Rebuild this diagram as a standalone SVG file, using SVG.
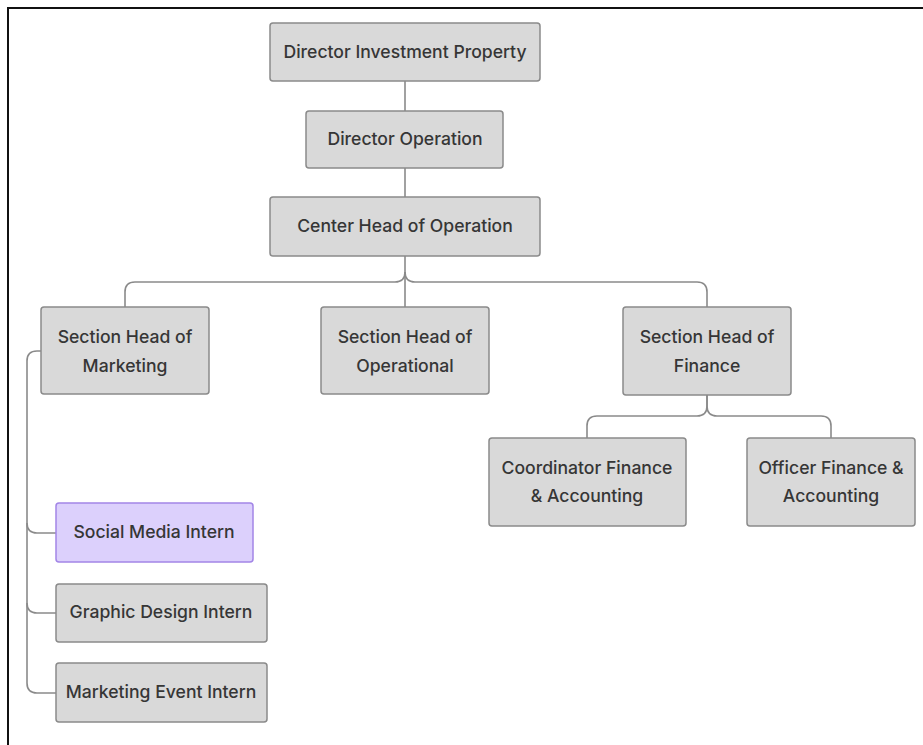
<svg xmlns="http://www.w3.org/2000/svg" width="923" height="745" viewBox="0 0 923 745">
<style>
.box{fill:#d9d9d9;stroke:#8a8a8a;stroke-width:1.5}
.hl{fill:#dcd0fc;stroke:#a285e6;stroke-width:1.5}
.t{font-family:Inter,"Liberation Sans",sans-serif;font-size:17.6px;font-weight:500;fill:#363636;text-anchor:middle}
.c{fill:none;stroke:#8a8a8a;stroke-width:1.6}
</style>
<rect width="923" height="745" fill="#fff"/>
<path d="M8 745 V8 H923" fill="none" stroke="#111" stroke-width="2"/>
<g id="connectors">
<path class="c" d="M405 81 V111"/>
<path class="c" d="M405 168 V197"/>
<path class="c" d="M405 256 V307"/>
<path class="c" d="M125 307 V292 Q125 282 135 282 H395 Q405 282 405 272"/>
<path class="c" d="M707 307 V292 Q707 282 697 282 H415 Q405 282 405 272"/>
<path class="c" d="M707 395 V406 Q707 416 697 416 H597 Q587 416 587 426 V438"/>
<path class="c" d="M707 395 V406 Q707 416 717 416 H821 Q831 416 831 426 V438"/>
<path class="c" d="M41 351 H37 Q27 351 27 361 V683 Q27 693 37 693 H56"/>
<path class="c" d="M27 523 Q27 533 37 533 H56"/>
<path class="c" d="M27 603 Q27 613 37 613 H56"/>
</g>
<g id="n1"><rect class="box" x="270" y="23" width="270" height="58" rx="3"/><text class="t" x="405" y="58">Director Investment Property</text></g>
<g id="n2"><rect class="box" x="306" y="111" width="197" height="57" rx="3"/><text class="t" x="405" y="145">Director Operation</text></g>
<g id="n3"><rect class="box" x="270" y="197" width="270" height="59" rx="3"/><text class="t" x="405" y="232">Center Head of Operation</text></g>
<g id="n4"><rect class="box" x="41" y="307" width="168" height="87" rx="3"/><text class="t" x="125" y="343">Section Head of</text><text class="t" x="125" y="372">Marketing</text></g>
<g id="n5"><rect class="box" x="321" y="307" width="168" height="87" rx="3"/><text class="t" x="405" y="343">Section Head of</text><text class="t" x="405" y="372">Operational</text></g>
<g id="n6"><rect class="box" x="623" y="307" width="168" height="88" rx="3"/><text class="t" x="707" y="343">Section Head of</text><text class="t" x="707" y="372">Finance</text></g>
<g id="n7"><rect class="box" x="489" y="438" width="197" height="88" rx="3"/><text class="t" x="587" y="474">Coordinator Finance</text><text class="t" x="587" y="502">&amp; Accounting</text></g>
<g id="n8"><rect class="box" x="747" y="438" width="168" height="88" rx="3"/><text class="t" x="831" y="474">Officer Finance &amp;</text><text class="t" x="831" y="502">Accounting</text></g>
<g id="n9"><rect class="hl" x="56" y="503" width="197" height="59" rx="3"/><text class="t" x="154" y="538">Social Media Intern</text></g>
<g id="n10"><rect class="box" x="56" y="584" width="211" height="58" rx="3"/><text class="t" x="161" y="618">Graphic Design Intern</text></g>
<g id="n11"><rect class="box" x="56" y="663" width="211" height="59" rx="3"/><text class="t" x="161" y="698">Marketing Event Intern</text></g>
</svg>
